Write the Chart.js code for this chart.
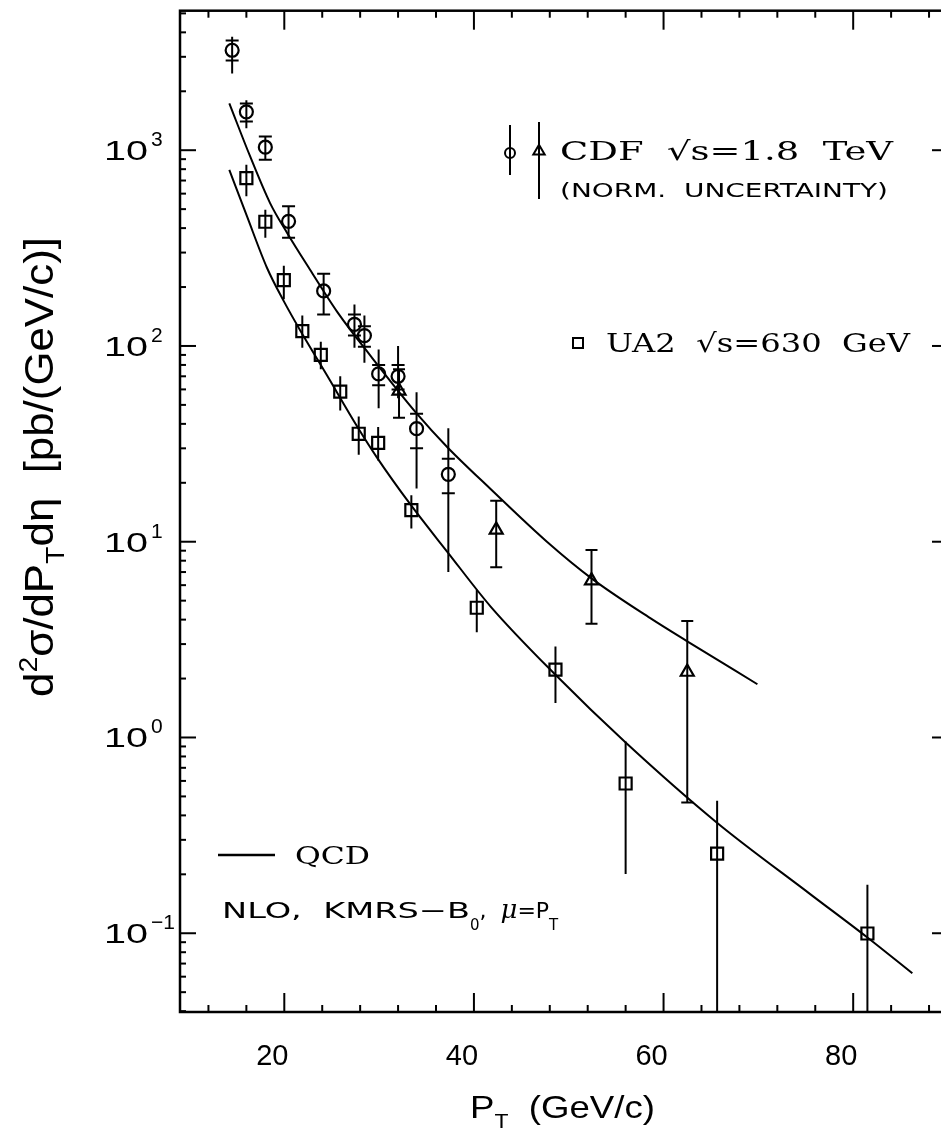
<!DOCTYPE html>
<html>

<head>
  <meta charset="UTF-8" />
  <title>Isolated photon cross section</title>
  <script src="https://cdn.jsdelivr.net/npm/chart.js"></script>
  <style>
    html, body { margin: 0; padding: 0; background: #fff; overflow: hidden; }
    #wrap { width: 960px; height: 1139px; }
  </style>
</head>

<body>
  <div id="wrap"><canvas id="chart" width="960" height="1139"></canvas></div>
  <script>
    // axis ranges and labelled ticks
    const X_MIN = 9, X_MAX = 90;
    const Y_MIN = 0.0396, Y_MAX = 5160;
    const xTicks = [20, 40, 60, 80];
    const yTicks = [0.1, 1, 10, 100, 1000];
    const yExp = ["−1", "0", "1", "2", "3"];

    // CDF sqrt(s)=1.8 TeV (circles): value, total error range, inner (crossbar) range
    const cdfPt = [14.5, 16.0, 18.0, 20.45, 24.15, 27.4, 28.45, 29.95, 32.0, 33.95, 37.3];
    const cdfSig = [3240, 1570, 1036, 433, 191, 129, 113, 72, 70, 37.8, 22.1];
    const cdfHi = [3800, 1800, 1175, 517, 234, 163, 143, 96, 100, 58, 38];
    const cdfLo = [2465, 1294, 893, 357, 145, 98, 82, 48, 54, 18.7, 7.0];
    const cdfInHi = [3630, 1734, 1175, 517, 234, 145, 126, 80, 80, 45, 26.5];
    const cdfInLo = [2870, 1400, 893, 357, 145, 113, 99, 63, 60, 30, 17.7];

    // CDF (triangles)
    const triPt = [32.1, 42.35, 52.4, 62.5];
    const triSig = [59, 11.5, 6.33, 2.16];
    const triHi = [76, 16.2, 9.08, 3.94];
    const triLo = [43, 7.4, 3.81, 0.466];

    // UA2 sqrt(s)=630 GeV (squares)
    const ua2Pt = [16.0, 18.0, 19.95, 21.9, 23.85, 25.9, 27.85, 29.9, 33.4, 40.3, 48.6, 56.0, 65.65, 81.5];
    const ua2Sig = [720, 431, 217, 119, 90, 58.5, 35.6, 32, 14.5, 4.6, 2.22, 0.582, 0.255, 0.0997];
    const ua2Hi = [842, 497, 257, 143, 105, 70, 43.6, 38.5, 17.3, 5.68, 2.92, 0.953, 0.475, 0.177];
    const ua2Lo = [581, 357, 173, 98, 76, 46.8, 27.8, 26, 11.7, 3.45, 1.50, 0.201, 0.001, 0.001];

    // NLO QCD curves
    const qcdTevPt = [14.2, 16.4, 18.5, 20.3, 22.7, 25.6, 29.1, 34.0, 37.2, 41.7, 47.7, 52.4, 58.6, 62.5, 69.9];
    const qcdTevSig = [1734, 929, 537, 378, 246, 149, 89, 45, 30.4, 18.7, 10.0, 6.5, 4.07, 3.1, 1.87];
    const qcdSppsPt = [14.2, 16.06, 18.17, 19.93, 22.04, 24.5, 27.67, 29.78, 33.3, 37.17, 41.74, 48.6, 56.0, 65.6, 75.5, 81.5, 86.24];
    const qcdSppsSig = [794, 460, 251, 170, 112, 70.8, 38.9, 26.9, 15.5, 8.91, 4.68, 2.09, 0.942, 0.368, 0.158, 0.0951, 0.0624];

    const pts = (xs, ys) => xs.map((x, i) => ({ x: x, y: ys[i] }));

    function txt(ctx, s, x, y, font, w) {
      ctx.font = font;
      const m = ctx.measureText(s).width;
      ctx.save();
      ctx.translate(x, y);
      if (w) ctx.scale(w / m, 1);
      ctx.fillText(s, 0, 0);
      ctx.restore();
      return w || m;
    }

    // pieces of [text, font, baseline shift] written one after another, stretched by k
    function run(ctx, pieces, x, y, k) {
      let cx = x;
      pieces.forEach(p => {
        ctx.font = p[1];
        cx += txt(ctx, p[0], cx, y + p[2], p[1], ctx.measureText(p[0]).width * k);
      });
      return cx - x;
    }
    function runWidth(ctx, pieces, k) {
      return pieces.reduce((s, p) => { ctx.font = p[1]; return s + ctx.measureText(p[0]).width * k; }, 0);
    }

    function marker(ctx, style, x, y, r) {
      ctx.beginPath();
      if (style === "circle") {
        ctx.arc(x, y, r, 0, Math.PI * 2);
      } else if (style === "rect") {
        ctx.rect(x - r, y - r, 2 * r, 2 * r);
      } else {
        ctx.moveTo(x, y - r * 1.05);
        ctx.lineTo(x + r * 0.95, y + r * 0.6);
        ctx.lineTo(x - r * 0.95, y + r * 0.6);
        ctx.closePath();
      }
      ctx.stroke();
    }

    const decor = {
      id: "decor",
      beforeDatasetsDraw(chart) {
        const { ctx, chartArea: a, scales: { x, y } } = chart;
        ctx.save();
        ctx.beginPath();
        ctx.rect(a.left, a.top, a.right - a.left, a.bottom - a.top);
        ctx.clip();
        ctx.strokeStyle = "#000";
        ctx.lineWidth = 2;
        const seg = (x1, y1, x2, y2) => {
          ctx.beginPath(); ctx.moveTo(x1, y1); ctx.lineTo(x2, y2); ctx.stroke();
        };
        cdfPt.forEach((v, i) => {
          const px = x.getPixelForValue(v);
          seg(px, y.getPixelForValue(cdfHi[i]), px, y.getPixelForValue(cdfLo[i]));
          [cdfInHi[i], cdfInLo[i]].forEach(e => {
            const py = y.getPixelForValue(e);
            seg(px - 6.5, py, px + 6.5, py);
          });
        });
        triPt.forEach((v, i) => {
          const px = x.getPixelForValue(v);
          seg(px, y.getPixelForValue(triHi[i]), px, y.getPixelForValue(triLo[i]));
          [triHi[i], triLo[i]].forEach(e => {
            const py = y.getPixelForValue(e);
            seg(px - 6, py, px + 6, py);
          });
        });
        ua2Pt.forEach((v, i) => {
          const px = x.getPixelForValue(v);
          seg(px, y.getPixelForValue(ua2Hi[i]), px, y.getPixelForValue(ua2Lo[i]));
        });
        ctx.restore();
      },
      afterDraw(chart) {
        const { ctx, chartArea: a, scales: { x, y } } = chart;
        ctx.save();
        ctx.strokeStyle = "#000";
        ctx.fillStyle = "#000";
        ctx.textBaseline = "alphabetic";

        // frame
        ctx.lineWidth = 2.5;
        ctx.strokeRect(a.left, a.top, a.right - a.left, a.bottom - a.top);

        // ticks, pointing inwards on all four sides
        ctx.lineWidth = 2;
        const tick = (x1, y1, x2, y2) => {
          ctx.beginPath(); ctx.moveTo(x1, y1); ctx.lineTo(x2, y2); ctx.stroke();
        };
        for (let v = 12; v <= X_MAX; v += 4) {
          const px = x.getPixelForValue(v);
          const len = v % 20 === 0 ? 19 : 7;
          tick(px, a.bottom, px, a.bottom - len);
          tick(px, a.top, px, a.top + len);
        }
        for (let e = -2; e <= 3; e++) {
          for (let m = 1; m <= 9; m++) {
            const v = m * Math.pow(10, e);
            if (v < Y_MIN || v > Y_MAX) continue;
            const py = y.getPixelForValue(v);
            const len = m === 1 ? 16 : 6;
            tick(a.left, py, a.left + len, py);
            tick(a.right, py, a.right - len, py);
          }
        }

        // y tick labels: 10 with raised exponent
        yTicks.forEach((v, i) => {
          const py = y.getPixelForValue(v);
          txt(ctx, "10", 104, py + 10, "28px 'Liberation Sans'", 44);
          txt(ctx, yExp[i], 151, py - 4, "21px 'Liberation Sans'");
        });

        // y axis title, rotated
        const big = "40px 'Liberation Sans'";
        const sm = "26px 'Liberation Sans'";
        const yTitle = [["d", big, 0], ["2", sm, -16], ["σ/dP", big, 0], ["T", sm, 11],
          ["dη  [pb/(GeV/c)]", big, 0]];
        ctx.save();
        ctx.translate(40, 467);
        ctx.rotate(-Math.PI / 2);
        const ky = 460 / runWidth(ctx, yTitle, 1);
        run(ctx, yTitle, -230, 13, ky);
        ctx.restore();

        // x axis title
        const xTitle = [["P", "32px 'Liberation Sans'", 0], ["T", "20px 'Liberation Sans'", 10],
          ["  (GeV/c)", "32px 'Liberation Sans'", 0]];
        const kx = 185 / runWidth(ctx, xTitle, 1);
        run(ctx, xTitle, 470, 1118, kx);

        // legend: CDF
        ctx.lineWidth = 2;
        tick(510, 125, 510, 175);
        marker(ctx, "circle", 510, 153, 5);
        tick(539, 122, 539, 199);
        marker(ctx, "triangle", 539, 151, 6);
        txt(ctx, "CDF  √s=1.8  TeV", 560, 160, "26px 'DejaVu Serif'", 333);
        txt(ctx, "(NORM.  UNCERTAINTY)", 560, 197, "20px 'DejaVu Sans'", 328);

        // legend: UA2
        marker(ctx, "rect", 578, 343, 5);
        txt(ctx, "UA2  √s=630  GeV", 606, 352, "26px 'DejaVu Serif'", 304);

        // legend: QCD
        ctx.lineWidth = 2.5;
        tick(218, 855, 275, 855);
        txt(ctx, "QCD", 295, 864, "25px 'DejaVu Serif'", 75);
        let tx = 222;
        tx += txt(ctx, "NLO,  KMRS−B", tx, 918, "22px 'DejaVu Sans'", 248);
        tx += txt(ctx, "0", tx, 930, "15px 'DejaVu Sans'");
        tx += txt(ctx, ",  ", tx, 918, "22px 'DejaVu Sans'");
        tx += txt(ctx, "μ", tx, 918, "italic 26px 'DejaVu Serif'");
        tx += txt(ctx, "=P", tx, 918, "22px 'DejaVu Sans'");
        txt(ctx, "T", tx, 930, "15px 'DejaVu Sans'");
        ctx.restore();
      }
    };

    const markerCommon = {
      showLine: false,
      borderColor: "#000",
      backgroundColor: "rgba(0,0,0,0)",
      pointBorderWidth: 2.2
    };

    new Chart(document.getElementById("chart"), {
      type: "scatter",
      data: {
        datasets: [
          {
            type: "line", label: "QCD 1.8 TeV", data: pts(qcdTevPt, qcdTevSig),
            borderColor: "#000", borderWidth: 2, pointRadius: 0, fill: false,
            cubicInterpolationMode: "monotone"
          },
          {
            type: "line", label: "QCD 630 GeV", data: pts(qcdSppsPt, qcdSppsSig),
            borderColor: "#000", borderWidth: 2, pointRadius: 0, fill: false,
            cubicInterpolationMode: "monotone"
          },
          Object.assign({ label: "CDF", data: pts(cdfPt, cdfSig), pointStyle: "circle", pointRadius: 6.5 }, markerCommon),
          Object.assign({ label: "CDF (norm.)", data: pts(triPt, triSig), pointStyle: "triangle", pointRadius: 7.5 }, markerCommon),
          Object.assign({ label: "UA2", data: pts(ua2Pt, ua2Sig), pointStyle: "rect", pointRadius: 8.5 }, markerCommon)
        ]
      },
      options: {
        responsive: false,
        animation: false,
        layout: { padding: { top: 7, right: 12, left: 0, bottom: 0 } },
        plugins: { legend: { display: false }, tooltip: { enabled: false } },
        scales: {
          x: {
            type: "linear", min: X_MIN, max: X_MAX,
            afterBuildTicks: s => { s.ticks = xTicks.map(v => ({ value: v })); },
            afterFit: s => { s.height = 127; s.paddingLeft = 0; s.paddingRight = 0; },
            grid: { display: false, drawTicks: false },
            border: { display: false },
            ticks: {
              color: "#000", padding: 28, labelOffset: -12, maxRotation: 0,
              font: { family: "Liberation Sans", size: 29 }
            }
          },
          y: {
            type: "logarithmic", min: Y_MIN, max: Y_MAX,
            afterBuildTicks: s => { s.ticks = yTicks.map(v => ({ value: v })); },
            afterFit: s => { s.width = 180; s.paddingTop = 0; s.paddingBottom = 0; },
            grid: { display: false, drawTicks: false },
            border: { display: false },
            ticks: { display: false }
          }
        }
      },
      plugins: [decor]
    });
  </script>
</body>

</html>
